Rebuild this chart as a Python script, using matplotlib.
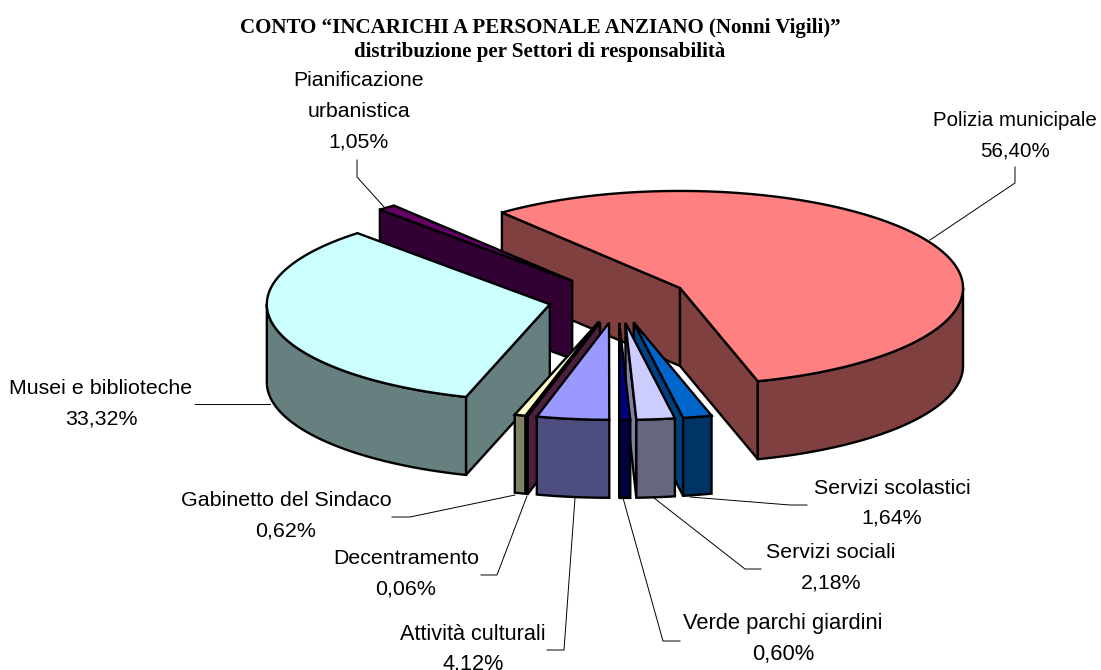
import numpy as np
from matplotlib import pyplot as plt

# data
sectors = ["Polizia municipale", "Servizi scolastici", "Servizi sociali", "Verde parchi giardini",
           "Attività culturali", "Decentramento", "Gabinetto del Sindaco", "Musei e biblioteche",
           "Pianificazione\nurbanistica"]
values = [56.40, 1.64, 2.18, 0.60, 4.12, 0.06, 0.62, 33.32, 1.05]
value_labels = ["56,40%", "1,64%", "2,18%", "0,60%", "4,12%", "0,06%", "0,62%", "33,32%", "1,05%"]

top_colors = ["#FF8080", "#0066CC", "#CCCCFF", "#000080", "#9999FF", "#4D1F3D", "#FFFFCC", "#CCFFFF", "#660066"]
side_colors = ["#804040", "#003366", "#666680", "#000040", "#4D4D80", "#4D1F3D", "#808066", "#668080", "#330033"]
end_wall_colors = ["#804040", "#004080", "#80809F", "#000040", "#4D4D80", "#4D1F3D", "#808066", "#668080", "#330033"]

# pie geometry in pixels
cx, cy = 618, 299
rx, ry = 283, 97
depth = 78
explode = 0.247
start_angle = -39
draw_order = [0, 8, 7, 6, 5, 4, 1, 2, 3]

label_pos = [(1015, 121), (892, 488), (831, 553), (783, 624), (473, 634), (406, 559), (286, 501), (101, 389), (359, 81)]
label_sizes = [14.8, 15.4, 15.4, 15.8, 15.6, 15.4, 15.4, 15.4, 15.3]
leaders = [[(1015, 167), (1015, 183), (930, 240)],
           [(807, 505), (790, 505), (690, 497)],
           [(761, 569), (745, 569), (654, 498)],
           [(680, 641), (663, 641), (623, 498)],
           [(547, 650), (564, 650), (575, 498)],
           [(481, 575), (497, 575), (527, 496)],
           [(392, 517), (410, 517), (515, 495)],
           [(195, 404), (255, 404), (270, 404)],
           [(357, 160), (357, 177), (385, 208)]]

fig = plt.figure(figsize=(11.01, 6.70), dpi=100)
ax = fig.add_axes([0, 0, 1, 1])
ax.set_xlim(0, 1101)
ax.set_ylim(670, 0)
ax.axis("off")

LW = 1.7


def point(t, ox, oy):
    r = np.radians(t)
    return ox + rx * np.sin(r), oy - ry * np.cos(r)


def draw_rim(a, b, ox, oy, color):
    rt = np.linspace(a, b, max(3, int((b - a) * 2)))
    rxs, rys = point(rt, ox, oy)
    ax.fill(np.r_[rxs, rxs[::-1]], np.r_[rys, rys[::-1] + depth], fc=color, ec="black", lw=LW, joinstyle="miter")


edges = start_angle + np.cumsum([0] + values) * 3.6

for i in draw_order:
    t0, t1 = edges[i], edges[i + 1]
    mid = (t0 + t1) / 2
    ox, oy = point(mid, cx, cy)
    ox = cx + (ox - cx) * explode
    oy = cy + (oy - cy) * explode
    ts = np.linspace(t0, t1, max(3, int((t1 - t0) * 2)))
    xs, ys = point(ts, ox, oy)

    # walls along the two cut edges, when they face the viewer
    if np.sin(np.radians(t0)) < 0:
        x0, y0 = point(t0, ox, oy)
        ax.fill([ox, x0, x0, ox], [oy, y0, y0 + depth, oy + depth], fc=side_colors[i], ec="black", lw=LW, joinstyle="miter")
    if np.sin(np.radians(t1)) > 0:
        x1, y1 = point(t1, ox, oy)
        ax.fill([ox, x1, x1, ox], [oy, y1, y1 + depth, oy + depth], fc=end_wall_colors[i], ec="black", lw=LW, joinstyle="miter")

    # outer rim, only the part of the arc at the front
    a, b = max(t0, 90), min(t1, 270)
    if a < b:
        draw_rim(a, b, ox, oy, side_colors[i])

    ax.fill(np.r_[ox, xs], np.r_[oy, ys], fc=top_colors[i], ec="black", lw=LW, joinstyle="miter")

LABEL_FONT = "Liberation Sans"
for i in range(len(sectors)):
    lines = sectors[i].split("\n") + [value_labels[i]]
    x, y = label_pos[i]
    for n, line in enumerate(lines):
        ax.text(x, y + n * 30.3, line, family=LABEL_FONT, fontsize=label_sizes[i], ha="center", va="center", color="black")
    ax.plot(*zip(*leaders[i]), color="black", lw=0.7)

ax.text(540, 28, "CONTO “INCARICHI A PERSONALE ANZIANO (Nonni Vigili)”", family="Liberation Serif",
        weight="bold", fontsize=15.1, ha="center", va="center")
ax.text(540, 52, "distribuzione per Settori di responsabilità", family="Liberation Serif",
        weight="bold", fontsize=15.1, ha="center", va="center")

fig.savefig("out.png", dpi=100)
